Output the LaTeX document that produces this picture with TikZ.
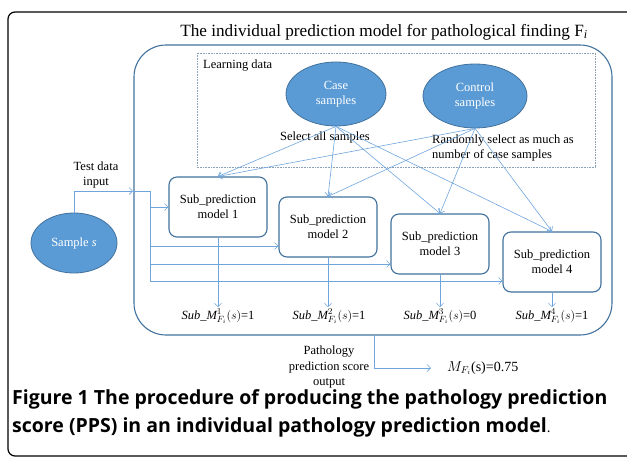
\documentclass[tikz,border=0pt]{standalone}
\usepackage{fontspec}
\setmainfont{Liberation Serif}
\newfontfamily\capfont{Open Sans}
\usetikzlibrary{arrows.meta,positioning,shapes.geometric}

\definecolor{boxblue}{RGB}{65,113,156}
\definecolor{fillblue}{RGB}{91,155,213}
\definecolor{lnblue}{RGB}{110,165,220}
\definecolor{dotgray}{RGB}{140,160,185}

\begin{document}
\begin{tikzpicture}[x=1pt, y=-1pt,
    every node/.style={font=\fontsize{12.5}{15}\selectfont},
    ell/.style={ellipse, draw=boxblue, line width=0.8pt, fill=fillblue,
                text=white, align=center, inner sep=0pt},
    sub/.style={rectangle, rounded corners=8pt, draw=boxblue, line width=1.1pt,
                fill=white, minimum width=98pt, minimum height=60pt, align=center},
    res/.style={inner sep=1pt},
    ln/.style={draw=lnblue, line width=0.6pt},
    e/.style={ln, -{Straight Barb[length=3.5pt, width=7pt]}},
  ]
  \useasboundingbox (0,0) rectangle (627,458);
  % outer frame and model frame
  \draw[line width=1.2pt, rounded corners=7pt] (8,12) rectangle (636,456);
  \draw[draw=boxblue, line width=1.1pt, rounded corners=32pt] (134,45) rectangle (612,335);
  \draw[dotgray, densely dotted, line width=0.6pt] (197,53) rectangle (595,167);
  \node (title) at (384,32) {\fontsize{17.2}{20}\selectfont The individual prediction model for pathological finding F\textsubscript{\itshape i}};
  \node[anchor=west, inner sep=0pt] (learn) at (203,66) {Learning data};

  % learning samples
  \node[ell, minimum width=100pt, minimum height=64pt] (case) at (336,94) {Case\\samples};
  \node[ell, minimum width=104pt, minimum height=64pt] (ctrl) at (475,96) {Control\\samples};
  \node (selall) at (325,137) {Select all samples};
  \node[anchor=west, align=left, inner sep=0pt] (selrnd) at (432,148) {Randomly select as much as\\number of case samples};

  % test sample
  \node[ell, minimum width=86pt, minimum height=60pt] (smp) at (74,243) {Sample \textit{s}};
  \node[align=center, inner sep=0pt] (tdi) at (96,175) {Test data\\input};

  % sub prediction models
  \node[sub] (b1) at (218,207) {Sub\_prediction\\model 1};
  \node[sub] (b2) at (328,227) {Sub\_prediction\\model 2};
  \node[sub] (b3) at (440,244) {Sub\_prediction\\model 3};
  \node[sub] (b4) at (552,262) {Sub\_prediction\\model 4};

  \node[res] (r1) at (218,316) {$\mathit{Sub\_M}^{1}_{F_{i}}(s)$=1};
  \node[res] (r2) at (329,316) {$\mathit{Sub\_M}^{2}_{F_{i}}(s)$=1};
  \node[res] (r3) at (440,316) {$\mathit{Sub\_M}^{3}_{F_{i}}(s)$=0};
  \node[res] (r4) at (552,316) {$\mathit{Sub\_M}^{4}_{F_{i}}(s)$=1};

  % output
  \node[align=center, inner sep=0pt, font=\fontsize{12.5}{15.5}\selectfont] (pso) at (329,367) {Pathology\\prediction score\\output};
  \node[anchor=west, inner sep=0pt, font=\fontsize{14}{16}\selectfont] (score) at (447,368) {$M_{F_{i}}$(s)=0.75};
  \coordinate (obot) at (374,335);
  \coordinate (oend) at (431,368);

  % learning data connectors
  \foreach \b in {b1,b2,b3,b4} {
    \draw[e] (case.south) -- (\b.north);
    \draw[e] (ctrl.south) -- (\b.north);
  }

  % test data connectors
  \coordinate (tin) at (133,191);
  \coordinate (br) at (150,191);
  \draw[e] (smp.north) |- (tin);
  \draw[ln] (tin) -- (br) -- (150,281);
  \draw[e] (br |- b1.west) -- (b1.west);
  \draw[e] (150,246) -- (b2.west |- 0,246);
  \draw[e] (150,264) -- (b3.west |- 0,264);
  \draw[e] (150,281) -- (b4.west |- 0,281);

  \foreach \i in {1,2,3,4} {
    \draw[e] (b\i.south) -- (b\i.south |- r\i.north);
  }
  \draw[e] (obot) |- (oend);

  % caption
  \node[anchor=base west, align=left, inner sep=0pt, font=\capfont\bfseries\fontsize{19.5}{28}\selectfont] (cap) at (12,432)
    {Figure 1 The procedure of producing the pathology prediction\\score (PPS) in an individual pathology prediction model{\mdseries\fontsize{14}{28}\selectfont .}};
\end{tikzpicture}
\end{document}
